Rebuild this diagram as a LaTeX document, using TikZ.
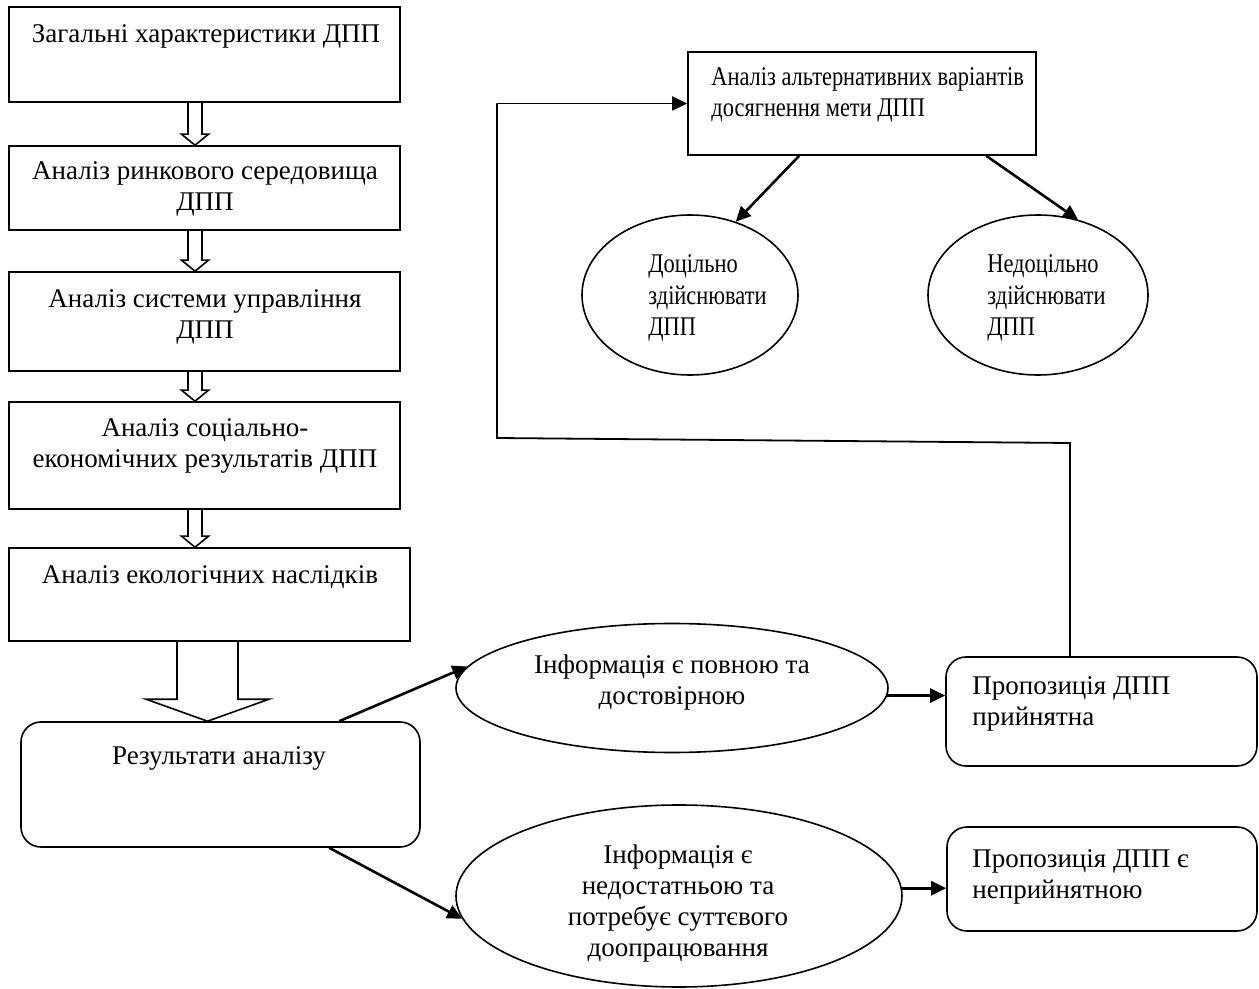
\documentclass[tikz,border=0pt]{standalone}
\usepackage{fontspec}
\setmainfont{Liberation Serif}
\newfontfamily\narrowfont[FakeStretch=0.83]{Liberation Serif}
\usetikzlibrary{calc,shapes.geometric,arrows.meta}
% hollow block arrow: #1 start point, #2 tip point, #3 shaft half width, #4 head half width, #5 head length
\newcommand{\hollowarr}[5]{%
  \draw[hollow] ($(#1)+(-#3,0)$) -- ($(#2)+(-#3,-#5)$) -- ($(#2)+(-#4,-#5)$) -- (#2)
    -- ($(#2)+(#4,-#5)$) -- ($(#2)+(#3,-#5)$) -- ($(#1)+(#3,0)$);}
\begin{document}
\begin{tikzpicture}[x=0.5pt,y=-0.5pt,
  every node/.style={font=\fontsize{13.5}{15.5}\selectfont},
  box/.style={draw, line width=0.8pt, rectangle, inner sep=0pt},
  rbox/.style={box, rounded corners=10pt},
  ell/.style={draw, line width=0.8pt, ellipse, inner sep=0pt},
  lbl/.style={inner sep=0pt, align=center},
  lbll/.style={inner sep=0pt, align=left},
  narrow/.style={font=\narrowfont\fontsize{13.5}{15.8}\selectfont},
  conn/.style={line width=1.3pt, -{Triangle[length=7.5pt,width=7pt]}},
  fbline/.style={line width=0.9pt},
  hollow/.style={line width=0.8pt, line join=miter}
]
\useasboundingbox (0,0) rectangle (1259,989);

% left column boxes
\node[box, minimum width=195.5pt, minimum height=47.5pt] (b1) at (204.5,54.5) {};
\node[lbl] (t1) at (206,36) {Загальні характеристики ДПП};
\node[box, minimum width=195.5pt, minimum height=42pt] (b2) at (204.5,188) {};
\node[lbl] (t2) at (205,189) {Аналіз ринкового середовища\\ДПП};
\node[box, minimum width=195.5pt, minimum height=49.5pt] (b3) at (204.5,321.5) {};
\node[lbl] (t3) at (205,317) {Аналіз системи управління\\ДПП};
\node[box, minimum width=195.5pt, minimum height=53.5pt] (b4) at (204.5,455.5) {};
\node[lbl] (t4) at (205,446) {Аналіз соціально-\\економічних результатів ДПП};
\node[box, minimum width=200.5pt, minimum height=46.5pt] (b5) at (209.5,594.5) {};
\node[lbl] (t5) at (210,577) {Аналіз екологічних наслідків};

\node[rbox, minimum width=199.5pt, minimum height=62.5pt] (res) at (220.5,784.5) {};
\node[lbl] (tres) at (219,758) {Результати аналізу};

% hollow arrows
\coordinate (ax) at (195,0);
\coordinate (bx) at (207.5,0);
\hollowarr{b1.south -| ax}{b2.north -| ax}{7}{13.5}{11}
\hollowarr{b2.south -| ax}{b3.north -| ax}{7}{13.5}{11}
\hollowarr{b3.south -| ax}{b4.north -| ax}{7}{13.5}{11}
\hollowarr{b4.south -| ax}{b5.north -| ax}{7}{13.5}{11}
\hollowarr{b5.south -| bx}{res.north -| bx}{30.5}{61.5}{22}

% ellipses middle
\node[ell, minimum width=216pt, minimum height=64.5pt] (e1) at (672,688) {};
\node[lbl] (te1) at (672,683) {Інформація є повною та\\достовірною};
\node[ell, minimum width=223pt, minimum height=91pt] (e2) at (679,896) {};
\node[lbl] (te2) at (678,904) {Інформація є\\недостатньою та\\потребує суттєвого\\доопрацювання};

% right boxes
\node[rbox, minimum width=155.5pt, minimum height=54.5pt] (p1) at (1101.5,711.5) {};
\node[lbll, anchor=west] (tp1) at (972,704) {Пропозиція ДПП\\прийнятна};
\node[rbox, minimum width=155pt, minimum height=52pt] (p2) at (1102,879) {};
\node[lbll, anchor=west] (tp2) at (972,877) {Пропозиція ДПП є\\неприйнятною};

% top right
\node[box, minimum width=174pt, minimum height=51.5pt] (alt) at (862,103.5) {};
\node[lbll, narrow, anchor=west] (talt) at (711,95) {Аналіз альтернативних варіантів\\досягнення мети ДПП};
\node[ell, minimum width=108pt, minimum height=80pt] (e3) at (690,295) {};
\node[lbll, narrow, anchor=west] (te3) at (648,298) {Доцільно\\здійснювати\\ДПП};
\node[ell, minimum width=110pt, minimum height=80pt] (e4) at (1038,295) {};
\node[lbll, narrow, anchor=west] (te4) at (987,298) {Недоцільно\\здійснювати\\ДПП};

% connectors
\draw[conn] ($(res.north west)+(319,0)$) -- (e1.174);
\draw[conn] ($(res.south west)+(309,0)$) -- (e2.186);
\draw[conn] (e1.358) -- (e1.358 -| p1.west);
\draw[conn] (e2.2) -- (e2.2 -| p2.west);
\draw[conn] ($(alt.south west)+(112,0)$) -- (e3.58);
\draw[conn] ($(alt.south west)+(299,0)$) -- (e4.62);

% feedback loop
\coordinate (fb1) at (1070,443);
\coordinate (fb2) at (497,438);
\draw[fbline] (fb1 |- p1.north) -- (fb1) -- (fb2) -- (fb2 |- alt.west);
\draw[fbline, -{Triangle[length=7.5pt,width=7pt]}] (fb2 |- alt.west) -- (alt.west);
\end{tikzpicture}
\end{document}
